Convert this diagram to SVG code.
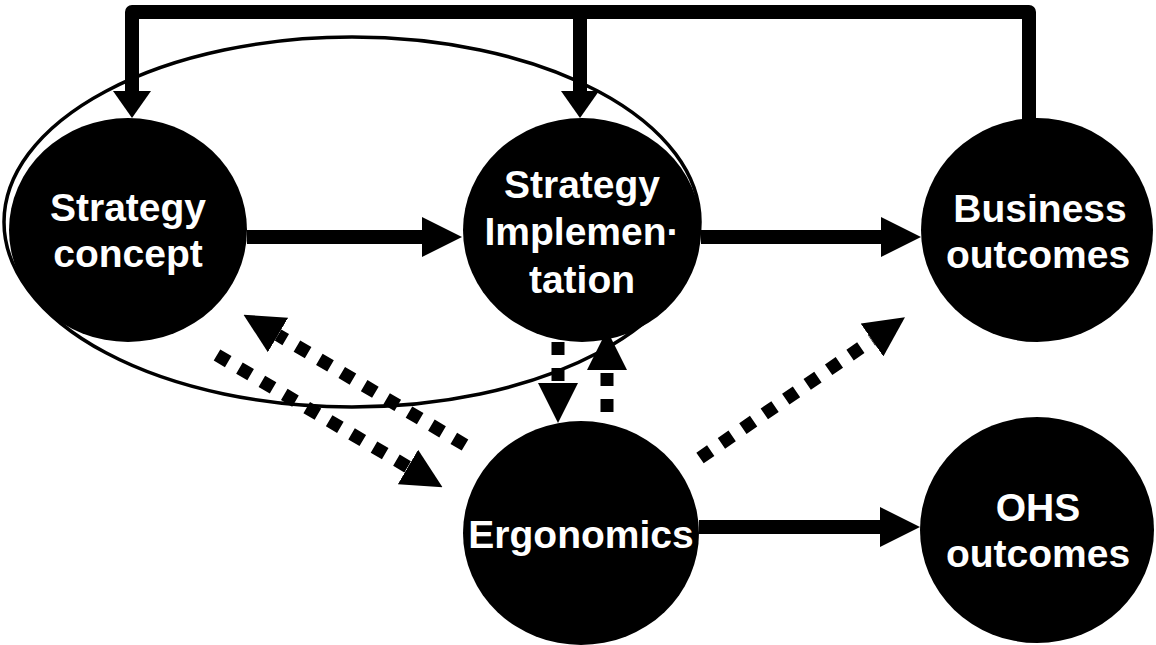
<svg xmlns="http://www.w3.org/2000/svg" width="1156" height="645" viewBox="0 0 1156 645">
<style>
.node{fill:#000}
.lbl{font-family:"Liberation Sans",Arial,sans-serif;font-weight:bold;font-size:39px;fill:#fff;text-anchor:middle}
.solid{stroke:#000;stroke-width:14;fill:none}
.dash{stroke:#000;stroke-width:13;fill:none;stroke-dasharray:13 13}
</style>
<defs>
<marker id="head" viewBox="0 0 40 40" markerWidth="40" markerHeight="40" refX="0" refY="20" markerUnits="userSpaceOnUse" orient="auto"><path d="M0,0 L40,20 L0,40 z" fill="#000"/></marker>
<marker id="headS" viewBox="0 0 27 38" markerWidth="27" markerHeight="38" refX="0" refY="19" markerUnits="userSpaceOnUse" orient="auto"><path d="M0,0 L27,19 L0,38 z" fill="#000"/></marker>
</defs>
<rect width="1156" height="645" fill="#fff"/>
<g id="strategy-group">
<ellipse cx="352" cy="222" rx="348" ry="185" fill="none" stroke="#000" stroke-width="3.5"/>
</g>
<g id="connectors">
<path class="solid" d="M132,91 V12 H1029 V120" stroke-linejoin="round"/>
<path class="solid" d="M132,80 V91" marker-end="url(#headS)"/>
<path class="solid" d="M580,12 V91" marker-end="url(#headS)"/>
<path class="solid" d="M247,237 H422" marker-end="url(#head)"/>
<path class="solid" d="M701,237 H881" marker-end="url(#head)"/>
<path class="solid" d="M699,527 H880" marker-end="url(#head)"/>
<path class="dash" d="M558,342 V383" marker-end="url(#head)"/>
<path class="dash" d="M607,412 V370" marker-end="url(#head)"/>
<path class="dash" d="M217,355 L408,467" marker-end="url(#head)"/>
<path class="dash" d="M465,445 L278,335" marker-end="url(#head)"/>
<path class="dash" d="M700,458 L872,340" marker-end="url(#head)"/>
</g>
<g id="strategy-concept">
<ellipse class="node" cx="128" cy="230" rx="119" ry="112"/>
<text class="lbl" x="128" y="221">Strategy</text>
<text class="lbl" x="128" y="267">concept</text>
</g>
<g id="strategy-implementation">
<ellipse class="node" cx="582" cy="230" rx="119" ry="112"/>
<text class="lbl" x="582" y="198">Strategy</text>
<text class="lbl" x="582" y="245">Implemen·</text>
<text class="lbl" x="582" y="293">tation</text>
</g>
<g id="business-outcomes">
<ellipse class="node" cx="1037" cy="230" rx="116" ry="112"/>
<text class="lbl" x="1040" y="222">Business</text>
<text class="lbl" x="1038" y="268">outcomes</text>
</g>
<g id="ergonomics">
<ellipse class="node" cx="581" cy="533" rx="118" ry="112"/>
<text class="lbl" x="581" y="548">Ergonomics</text>
</g>
<g id="ohs-outcomes">
<ellipse class="node" cx="1037" cy="530" rx="117" ry="113"/>
<text class="lbl" x="1038" y="521">OHS</text>
<text class="lbl" x="1038" y="567">outcomes</text>
</g>
</svg>
